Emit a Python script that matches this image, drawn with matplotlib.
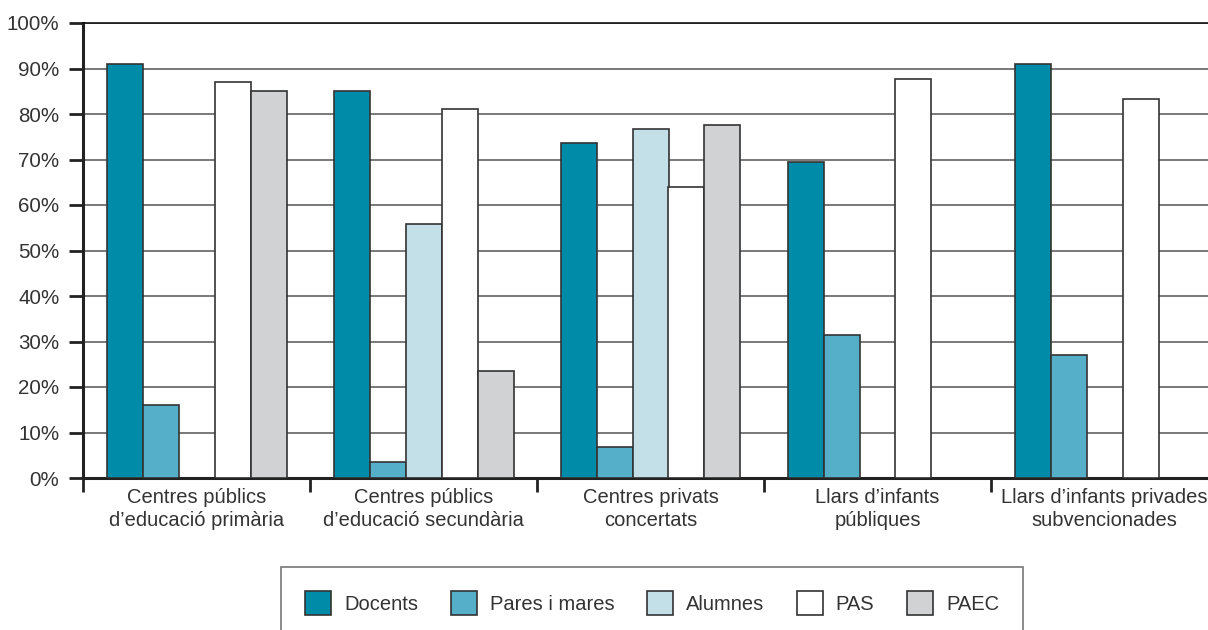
import numpy as np
import matplotlib
matplotlib.use("Agg")
import matplotlib.pyplot as plt

plt.rcParams['font.family'] = ['Liberation Sans', 'DejaVu Sans']
plt.rcParams['text.color'] = '#333333'

categories = ["Centres públics\nd’educació primària",
              "Centres públics\nd’educació secundària",
              "Centres privats\nconcertats",
              "Llars d’infants\npúbliques",
              "Llars d’infants privades\nsubvencionades"]
series = ["Docents", "Pares i mares", "Alumnes", "PAS", "PAEC"]
docents = [91, 85, 73.6, 69.5, 91]
pares = [16, 3.5, 6.8, 31.4, 27]
alumnes = [0, 55.8, 76.7, 0, 0]
pas = [87, 81.2, 64, 87.6, 83.4]
paec = [85, 23.5, 77.6, 0, 0]
values = [docents, pares, alumnes, pas, paec]
colors = ["#008BA8", "#56AFC8", "#C3E0E8", "#FFFFFF", "#D1D2D4"]

fig = plt.figure(figsize=(12.08, 6.3), dpi=100)
ax = fig.add_axes([83/1208, 1-478/630, 1135/1208, 455/630])

x = np.arange(len(categories)) + 0.5
w = 36/227
for k, (name, vals, c) in enumerate(zip(series, values, colors)):
    v = np.array(vals, dtype=float)
    h = np.where(v > 0, v, np.nan)
    ax.bar(x + (k-2)*w, h, w, color=c, edgecolor='#333333', linewidth=1.2,
           label=name, zorder=3)

ax.set_xlim(0, 5)
ax.set_ylim(0, 100)
ax.set_yticks(np.arange(0, 101, 10))
ax.set_yticklabels([f"{v}%" for v in range(0, 101, 10)])
ax.yaxis.grid(True, color='#555555', linewidth=1.1)
ax.set_axisbelow(True)

ax.set_xticks(np.arange(0, 6))
ax.set_xticklabels([])
ax.set_xticks(x, minor=True)
ax.set_xticklabels(categories, minor=True, fontsize=14.5, color='#333333',
                   linespacing=1.3)
ax.tick_params(axis='x', which='major', length=10, width=2, color='#222222', direction='out')
ax.tick_params(axis='x', which='minor', length=0, pad=7)
ax.tick_params(axis='y', length=10, width=2, color='#222222', labelsize=14.8,
               labelcolor='#333333', pad=7)

for s in ['left', 'bottom']:
    ax.spines[s].set_linewidth(2.2)
    ax.spines[s].set_color('#222222')
ax.spines['top'].set_linewidth(1.2)
ax.spines['top'].set_color('#111111')
ax.spines['right'].set_visible(False)

leg = fig.legend(loc='upper left', bbox_to_anchor=(281/1208, 1-567/630), ncol=5,
                 fontsize=14.5, handlelength=1.3, handleheight=1.45,
                 handletextpad=0.65, columnspacing=1.6, borderpad=1.2,
                 borderaxespad=0, frameon=True, fancybox=False)
leg.get_frame().set_edgecolor('#555555')
leg.get_frame().set_linewidth(1.2)

fig.savefig("out.png", dpi=100)
